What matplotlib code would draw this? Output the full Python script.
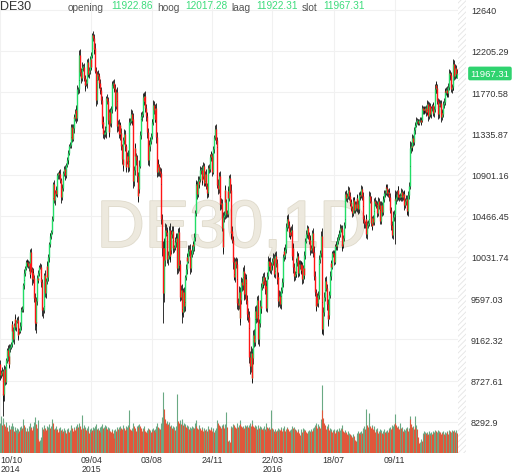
import numpy as np
import matplotlib.pyplot as plt
import matplotlib.patheffects as pe
from matplotlib.patches import Rectangle
from matplotlib.transforms import blended_transform_factory

plt.rcParams['font.family'] = ['Liberation Sans', 'DejaVu Sans']
plt.rcParams['hatch.linewidth'] = 0.6

# DE30 daglijst, 10/10/2014 - 08/03/2017 (slotkoersen per maand)
close = [
    8788, 8812, 8825, 8572, 8582, 8850, 8717, 8887, 8940, 9048, 8988, 8902, 9068, 9082, 9114, 9327,  # okt 14
    9251, 9167, 9315, 9377, 9291, 9351, 9369, 9210, 9248, 9252, 9306, 9456, 9472, 9483, 9732, 9785, 9861, 9915, 9974, 9980,  # nov
    9963, 9934, 9971, 9851, 10087, 9900, 9799, 9860, 9811, 9594, 9335, 9334, 9563, 9811, 9787, 9865, 9922, 9927, 9806,  # dec
    9764, 9473, 9469, 9518, 9837, 9648, 9781, 9941, 9817, 10032, 10167, 10242, 10257, 10299, 10435, 10649, 10798, 10628, 10710, 10738, 10694,  # jan 15
    10891, 10912, 10911, 10905, 10846, 10663, 10752, 10764, 10919, 10963, 10923, 10895, 11001, 11051, 11050, 11131, 11206, 11210, 11298, 11401,  # feb
    11280, 11390, 11505, 11502, 11550, 11582, 11500, 11805, 11800, 11901, 12167, 11980, 11922, 12010, 12039, 12039, 11916, 11843, 11865, 11868, 12086, 11966,  # mrt
    11968, 12002, 12123, 12035, 12166, 12374, 12338, 12227, 12231, 11998, 11688, 11896, 11958, 11939, 11867, 11811, 11795, 11690, 11432, 11454,  # apr
    11327, 11328, 11350, 11407, 11709, 11673, 11472, 11351, 11559, 11447, 11595, 11848, 11852, 11864, 11815, 11816, 11625, 11771, 11681, 11413,  # mei
    11436, 11328, 11419, 11340, 11197, 11064, 11001, 11265, 11333, 11197, 10985, 11045, 11100, 10978, 11041, 11460, 11471, 11542, 11473, 11492, 10833, 10945,  # jun
    11180, 11099, 11058, 10890, 10676, 10747, 10996, 11316, 11484, 11516, 11540, 11716, 11673, 11734, 11604, 11520, 11513, 11347, 11056, 11211, 11198, 11257, 11308,  # jul
    11444, 11456, 11636, 11585, 11490, 11604, 11293, 10924, 11014, 10985, 10940, 10915, 10800, 10432, 10124, 9648, 10128, 9998, 10315, 10298, 10259,  # aug
    10015, 10048, 10317, 10038, 10108, 10271, 10303, 10210, 10124, 10132, 10188, 10227, 10229, 9916, 10292, 9948, 9958, 9612, 9688, 9483, 9450, 9660,  # sep
    9509, 9553, 9815, 9902, 10032, 9993, 10096, 10119, 10032, 9915, 10065, 10104, 10164, 10147, 10238, 10491, 10795, 10801, 10692, 10832, 10801, 10850,  # okt
    10950, 10951, 10845, 10887, 10988, 10815, 10832, 10907, 10780, 10708, 10713, 10971, 10959, 11085, 11119, 11092, 10933, 11169, 11284, 11293, 11382,  # nov
    11261, 11190, 10790, 10752, 10886, 10673, 10592, 10598, 10340, 10140, 10450, 10469, 10738, 10608, 10497, 10488, 10727, 10653, 10860, 10743,  # dec
    10283, 10310, 10214, 9979, 9849, 9825, 9985, 9960, 9794, 9545, 9521, 9664, 9391, 9574, 9764, 9737, 9823, 9880, 9639, 9798,  # jan 16
    9757, 9582, 9434, 9393, 9286, 8979, 8879, 9017, 8752, 8967, 9206, 9135, 9377, 9463, 9388, 9573, 9416, 9167, 9331, 9513, 9495,  # feb
    9717, 9776, 9751, 9824, 9778, 9692, 9723, 9498, 9831, 9990, 9933, 9983, 9892, 9950, 9949, 9990, 10022, 9851, 9887, 10046, 9966,  # mrt
    9794, 9822, 9563, 9624, 9530, 9622, 9682, 9762, 10026, 10093, 10051, 10120, 10349, 10421, 10435, 10373, 10294, 10259, 10299, 10321, 10038,  # apr
    10123, 9926, 9828, 9851, 9870, 9980, 10045, 10034, 9863, 9952, 9955, 9890, 9943, 9795, 9916, 9842, 10057, 10205, 10272, 10286, 10333, 10263,  # mei
    10205, 10208, 10103, 10121, 10287, 10217, 10088, 9834, 9657, 9519, 9606, 9550, 9631, 9962, 10015, 10071, 10257, 9557, 9268, 9448, 9612, 9680,  # jun
    9776, 9709, 9532, 9373, 9418, 9629, 9833, 9964, 9930, 10068, 10066, 10063, 9982, 10142, 10156, 10147, 10198, 10247, 10274, 10275, 10337,  # jul
    10330, 10144, 10170, 10228, 10367, 10432, 10693, 10651, 10675, 10713, 10740, 10676, 10603, 10603, 10544, 10494, 10623, 10629, 10530, 10587, 10544, 10657, 10592,  # aug
    10534, 10683, 10672, 10687, 10752, 10675, 10573, 10432, 10386, 10379, 10431, 10276, 10373, 10393, 10436, 10674, 10626, 10393, 10361, 10438, 10405, 10511,  # sep
    10619, 10600, 10585, 10568, 10490, 10624, 10577, 10523, 10414, 10580, 10504, 10631, 10646, 10701, 10710, 10762, 10757, 10709, 10717, 10696, 10665,  # okt
    10526, 10371, 10325, 10259, 10456, 10482, 10646, 10630, 10667, 10693, 10735, 10664, 10663, 10665, 10685, 10714, 10662, 10689, 10699, 10582, 10620, 10640,  # nov
    10534, 10513, 10684, 10775, 10986, 11179, 11203, 11190, 11284, 11244, 11366, 11404, 11427, 11464, 11468, 11456, 11449, 11472, 11474, 11451, 11481,  # dec
    11598, 11584, 11585, 11584, 11599, 11563, 11583, 11646, 11521, 11629, 11555, 11540, 11599, 11604, 11630, 11545, 11595, 11806, 11848, 11815, 11681, 11535,  # jan 17
    11627, 11659, 11651, 11510, 11550, 11543, 11642, 11667, 11774, 11771, 11794, 11757, 11758, 11827, 11967, 11948, 11947, 11804, 11823, 11834,  # feb
    12067, 11944, 12027, 11958, 11966, 11967.31,  # mrt
]
first_open = 8905

# lonten boven/onder de body, in stappen van 10 punten
hi_wick = [
    4,3,5,2,10,4,3,4,3,2,5,3,4,3,2,3,
    3,4,2,3,5,2,3,4,2,3,4,2,3,3,2,3,4,2,3,2,
    3,4,2,5,3,4,3,5,2,3,6,4,5,3,4,3,2,4,3,
    3,4,3,5,2,6,3,4,5,3,2,4,3,2,3,4,2,5,3,2,4,
    3,2,4,3,5,2,3,4,2,3,4,3,2,3,4,3,2,3,2,3,
    3,4,2,3,4,5,3,4,2,3,5,6,4,3,5,3,4,3,5,4,3,4,
    4,3,3,5,3,2,4,5,3,6,4,3,4,5,3,4,5,3,4,6,
    5,4,6,3,2,4,5,6,3,4,3,2,4,3,5,3,4,3,5,4,
    4,5,3,4,5,3,4,3,5,4,3,5,4,6,3,4,3,5,4,3,6,5,
    4,5,3,5,4,3,6,4,3,4,3,4,3,4,5,4,3,5,4,3,5,4,3,
    4,3,5,4,3,4,5,6,4,5,3,4,5,6,5,8,10,9,7,6,5,
    6,5,4,7,5,4,6,5,4,3,5,4,6,5,4,6,5,4,5,6,5,4,
    5,4,3,5,4,3,6,4,5,3,4,5,3,4,5,4,3,4,3,5,3,4,
    4,3,5,3,4,3,4,3,5,3,4,3,4,3,2,3,4,3,2,3,4,
    5,4,5,6,4,5,4,6,5,4,6,5,4,5,4,3,5,3,4,5,
    6,4,5,4,5,6,4,5,6,4,5,6,5,7,6,5,6,5,7,6,
    5,6,5,6,7,5,6,7,5,6,5,7,6,5,6,5,6,7,5,6,5,
    4,5,3,4,5,4,3,6,4,5,3,4,5,3,4,3,5,4,3,4,5,
    4,5,4,6,5,4,3,5,4,3,4,5,4,3,4,5,4,3,5,4,6,
    6,5,4,3,5,4,5,3,4,5,4,3,5,4,3,5,4,3,4,3,4,3,
    3,4,5,4,3,5,4,6,5,4,6,5,4,5,4,3,5,8,9,6,5,4,
    4,5,4,6,5,4,5,3,4,3,4,3,4,3,4,3,4,3,4,3,4,
    3,4,3,4,3,4,3,4,3,3,4,3,4,3,4,3,4,3,4,3,4,3,4,
    4,3,4,3,4,3,4,5,4,3,4,5,4,3,4,5,4,5,4,3,4,3,
    3,4,3,4,3,4,3,4,3,4,3,4,3,4,3,4,3,4,3,4,3,
    4,3,4,5,6,5,9,5,6,4,5,4,3,4,3,4,3,4,3,4,3,4,
    4,5,4,5,6,8,4,3,4,3,4,3,3,4,3,2,3,2,3,2,3,
    4,3,3,4,3,4,3,4,3,4,3,4,3,4,3,4,3,5,4,3,4,3,
    3,4,3,4,3,4,3,4,3,4,3,4,3,4,5,4,3,4,3,4,
    5,4,4,3,3,5,
]
lo_wick = [
    5,3,4,6,22,7,4,3,4,3,5,4,3,4,2,3,
    4,3,5,2,3,4,2,3,5,3,2,4,3,2,3,4,2,3,2,4,
    4,2,5,3,4,3,6,2,5,4,7,11,3,4,3,2,3,2,4,
    5,6,8,3,2,4,5,3,2,4,5,3,2,4,3,2,4,3,5,3,2,
    3,4,2,5,3,6,3,2,4,3,2,5,3,2,3,4,2,3,3,2,
    4,3,5,3,4,3,6,3,5,4,2,4,5,3,4,5,3,6,4,3,5,4,
    3,5,4,3,2,4,3,5,4,3,6,4,3,4,5,3,4,5,4,3,
    4,5,3,6,4,3,4,5,4,3,4,5,3,4,3,4,5,3,4,6,
    5,4,6,3,4,5,6,3,4,5,6,4,3,5,4,3,4,3,5,4,7,5,
    5,4,6,7,5,6,4,3,4,3,5,3,4,3,4,5,4,6,5,7,4,5,3,
    3,4,3,5,4,3,6,5,4,3,5,4,6,5,8,31,9,7,6,5,6,
    5,7,4,6,4,5,4,3,5,4,3,5,4,6,5,4,6,5,4,6,12,5,
    6,5,4,3,5,4,3,5,4,6,4,3,4,3,5,4,3,4,5,3,4,3,
    3,4,3,5,3,4,3,4,3,5,4,3,4,3,4,3,5,3,4,3,3,
    4,5,3,6,5,4,6,5,4,6,8,5,4,6,5,4,3,4,3,4,
    5,6,4,7,5,4,6,5,4,6,5,4,8,5,4,6,5,4,6,5,
    6,5,7,5,6,7,8,6,5,4,6,5,4,6,5,4,6,5,7,4,5,
    5,3,4,5,4,5,6,4,5,3,4,5,3,4,3,5,4,3,4,3,4,
    5,4,6,5,4,5,4,3,5,4,3,4,5,4,3,4,5,4,3,5,4,
    4,6,5,4,3,5,4,5,4,3,5,4,3,5,4,3,4,5,3,4,3,4,
    4,3,5,3,5,4,6,5,4,6,5,4,5,4,3,5,4,33,5,6,4,5,
    5,4,6,7,5,4,3,4,5,3,4,3,4,3,4,3,4,3,4,3,3,
    4,5,3,4,3,3,4,3,4,3,3,4,3,4,3,4,3,4,3,4,3,4,3,
    5,4,3,4,3,4,5,4,5,4,3,4,5,4,3,4,3,4,5,3,4,4,
    4,3,4,3,4,3,4,3,4,3,4,3,4,3,4,3,4,3,4,3,4,
    3,5,4,3,4,5,31,6,4,5,4,3,4,3,4,3,4,3,4,5,3,4,
    5,4,5,4,3,4,5,4,3,4,3,4,3,2,3,3,2,3,2,3,2,
    3,4,3,4,3,4,3,4,5,3,4,3,4,3,4,3,4,3,4,5,4,5,
    4,3,4,5,3,4,3,4,3,4,3,4,3,4,3,4,5,3,4,3,
    4,5,4,3,4,0,
]

# volume (relatieve hoogte)
volume = [
    30,37,28,33,35,29,27,24,31,26,22,25,28,24,27,30,
    24,27,22,26,21,23,25,20,24,22,26,23,27,25,34,28,24,26,22,23,
    25,22,27,24,30,26,23,27,25,31,36,29,28,25,33,14,12,13,15,
    16,26,24,22,28,25,23,27,24,26,29,25,23,27,34,30,26,24,25,23,27,
    24,21,25,22,26,23,20,24,22,25,21,23,20,24,22,25,21,23,26,28,
    25,22,26,24,23,27,25,29,26,28,30,27,24,26,38,25,28,24,26,23,25,27,
    22,20,24,21,25,23,26,23,25,27,29,24,22,25,23,21,26,27,29,25,
    23,26,28,25,27,24,26,23,25,22,21,24,22,20,23,15,24,22,23,26,
    24,26,23,27,25,24,26,28,25,23,27,24,26,28,43,26,24,23,25,22,30,27,
    25,23,22,27,28,26,29,27,25,24,22,25,27,24,22,21,23,20,25,24,22,23,21,
    24,22,25,23,21,24,27,30,26,23,25,24,27,30,36,61,44,39,34,30,28,
    32,29,31,27,26,28,25,27,24,26,23,25,27,59,32,30,28,33,29,31,34,28,
    30,27,29,26,28,25,27,24,26,23,25,27,24,26,25,30,33,27,25,24,26,28,
    25,23,26,24,22,25,23,21,24,22,25,27,24,23,26,24,22,25,21,20,23,
    25,27,33,30,28,26,27,25,28,29,27,25,26,29,41,26,12,10,13,11,
    27,25,26,29,28,27,26,25,27,30,26,28,33,29,27,26,24,27,25,28,
    26,27,28,26,25,28,30,27,33,29,27,26,28,25,27,24,26,28,25,27,24,
    26,24,25,23,27,24,22,30,26,25,23,26,24,43,25,23,24,22,20,24,22,
    23,25,22,24,23,26,24,22,25,27,23,22,24,26,25,24,22,23,21,24,27,
    25,23,26,24,22,23,21,24,22,20,18,22,24,21,25,22,24,23,21,20,16,22,
    23,21,22,24,22,25,23,26,28,30,27,25,29,26,27,25,34,68,43,35,30,28,
    26,24,27,29,25,23,25,22,24,21,23,24,22,20,23,21,24,22,25,21,23,
    25,28,24,22,21,20,23,21,19,22,18,20,19,17,18,16,19,17,15,13,12,18,20,
    22,20,19,21,22,20,23,25,27,24,26,44,28,26,30,40,27,25,28,26,24,27,
    23,21,24,22,25,20,22,24,21,23,20,22,19,24,21,22,20,23,21,25,23,
    26,24,28,25,27,29,39,30,28,26,25,27,24,30,25,23,26,22,24,21,23,25,
    24,26,22,25,37,34,29,26,25,27,24,37,26,28,24,16,12,10,11,13,14,
    12,20,22,19,21,20,18,21,19,22,18,20,21,19,22,20,21,23,22,20,21,23,
    20,22,21,19,21,20,22,19,21,18,20,22,21,19,23,22,20,21,23,22,
    20,23,21,22,23,20,
]

last_names = ['opening', 'hoog', 'laag', 'slot']
last_bar = [11922.86, 12017.28, 11922.31, 11967.31]

y_ticks = [8292.9, 8727.61, 9162.32, 9597.03, 10031.74, 10466.45,
           10901.16, 11335.87, 11770.58, 12205.29, 12640]
y_tick_labels = ['8292.9', '8727.61', '9162.32', '9597.03', '10031.74', '10466.45',
                 '10901.16', '11335.87', '11770.58', '12205.29', '12640']
x_tick_pos = [0, 122, 203, 284, 365, 447, 529]
x_tick_labels = ['10/10\n2014', '09/04\n2015', '03/08', '24/11', '22/03\n2016', '18/07', '09/11']

close = np.array(close, dtype=float)
n = len(close)
assert len(hi_wick) == n and len(lo_wick) == n and len(volume) == n, (n, len(hi_wick), len(lo_wick), len(volume))

opn = np.r_[first_open, close[:-1]]
opn[-1] = last_bar[0]
high = np.maximum(opn, close) + np.array(hi_wick) * 10
low = np.minimum(opn, close) - np.array(lo_wick) * 10
high[-1] = last_bar[1]
low[-1] = last_bar[2]

W, H = 512, 477
fig = plt.figure(figsize=(W / 100, H / 100), dpi=100)
ax = fig.add_axes([0, 23 / H, 458 / W, 454 / H])
ax.set_xlim(-0.67, 614.1)
ax.set_ylim(7963, 12753)
for s in ax.spines.values():
    s.set_visible(False)

# raster
ax.set_axisbelow(True)
ax.set_yticks(y_ticks, y_tick_labels)
ax.set_xticks(x_tick_pos, x_tick_labels)
ax.grid(True, color='#f1f1f1', lw=0.8)
ax.yaxis.tick_right()
ax.tick_params(axis='y', length=0, pad=9.3, labelsize=6.5, labelcolor='#333333')
ax.tick_params(axis='x', length=0, pad=1.5, labelsize=6.3, labelcolor='#333333')
for i, t in enumerate(ax.get_xticklabels()):
    t.set_linespacing(0.95)
    if i == 0:
        t.set_ha('left')

# watermerk
ax.text(232 / W, 1 - 248 / H, 'DE30,1D', transform=fig.transFigure, fontsize=48,
        color='#ede9de', ha='center', va='baseline', zorder=1,
        path_effects=[pe.Stroke(linewidth=1.2, foreground='#dfdacb'), pe.Normal()])

# volume onderin, groen als volume steeg t.o.v. vorige dag
idx = np.arange(n)
vol = np.array(volume, dtype=float)
vol_up = np.r_[True, vol[1:] >= vol[:-1]]
xt = ax.get_xaxis_transform()
ax.vlines(idx[vol_up], 0, vol[vol_up] / 454, transform=xt, color='#6aa983', lw=0.8, zorder=2)
ax.vlines(idx[~vol_up], 0, vol[~vol_up] / 454, transform=xt, color='#e0573b', lw=0.8, zorder=2.1)

# candles
up = close >= opn
body_lo = np.minimum(opn, close)
body_hi = np.maximum(np.maximum(opn, close), body_lo + 8)
ax.vlines(idx, low, high, color='#111111', lw=0.6, zorder=3)
ax.vlines(idx[up], body_lo[up], body_hi[up], color='#22dd66', lw=1.0, zorder=4)
ax.vlines(idx[~up], body_lo[~up], body_hi[~up], color='#ff1515', lw=1.0, zorder=4)

# gearceerde strook rechts
fig.patches.append(Rectangle((458 / W, 23 / H), 8 / W, 454 / H, transform=fig.transFigure,
                             facecolor='white', edgecolor='#e4e4e4', lw=0, hatch='//////'))

# koerslabel
bt = blended_transform_factory(fig.transFigure, ax.transData)
fig.text(470.5 / W, last_bar[3], f'{last_bar[3]:.2f}', transform=bt, color='white',
         fontsize=6.8, ha='left', va='center',
         bbox=dict(boxstyle='round,pad=0.25,rounding_size=0.2', fc='#2fd36f', ec='none'))

# kop
fig.text(0, 1 - 7.5 / H, 'DE30', fontsize=9, color='#333333', ha='left', va='center')
name_x = [68, 157, 231, 302]
val_x = [111, 185, 256, 323]
for name, val, nx, vx in zip(last_names, last_bar, name_x, val_x):
    fig.text(nx / W, 1 - 8 / H, name, fontsize=7.3, color='#555555', ha='left', va='center')
    fig.text(vx / W, 1 - 6 / H, f'{val:.2f}', fontsize=7.3, color='#3ddc7c', ha='left', va='center')

fig.savefig('out.png', dpi=100)
